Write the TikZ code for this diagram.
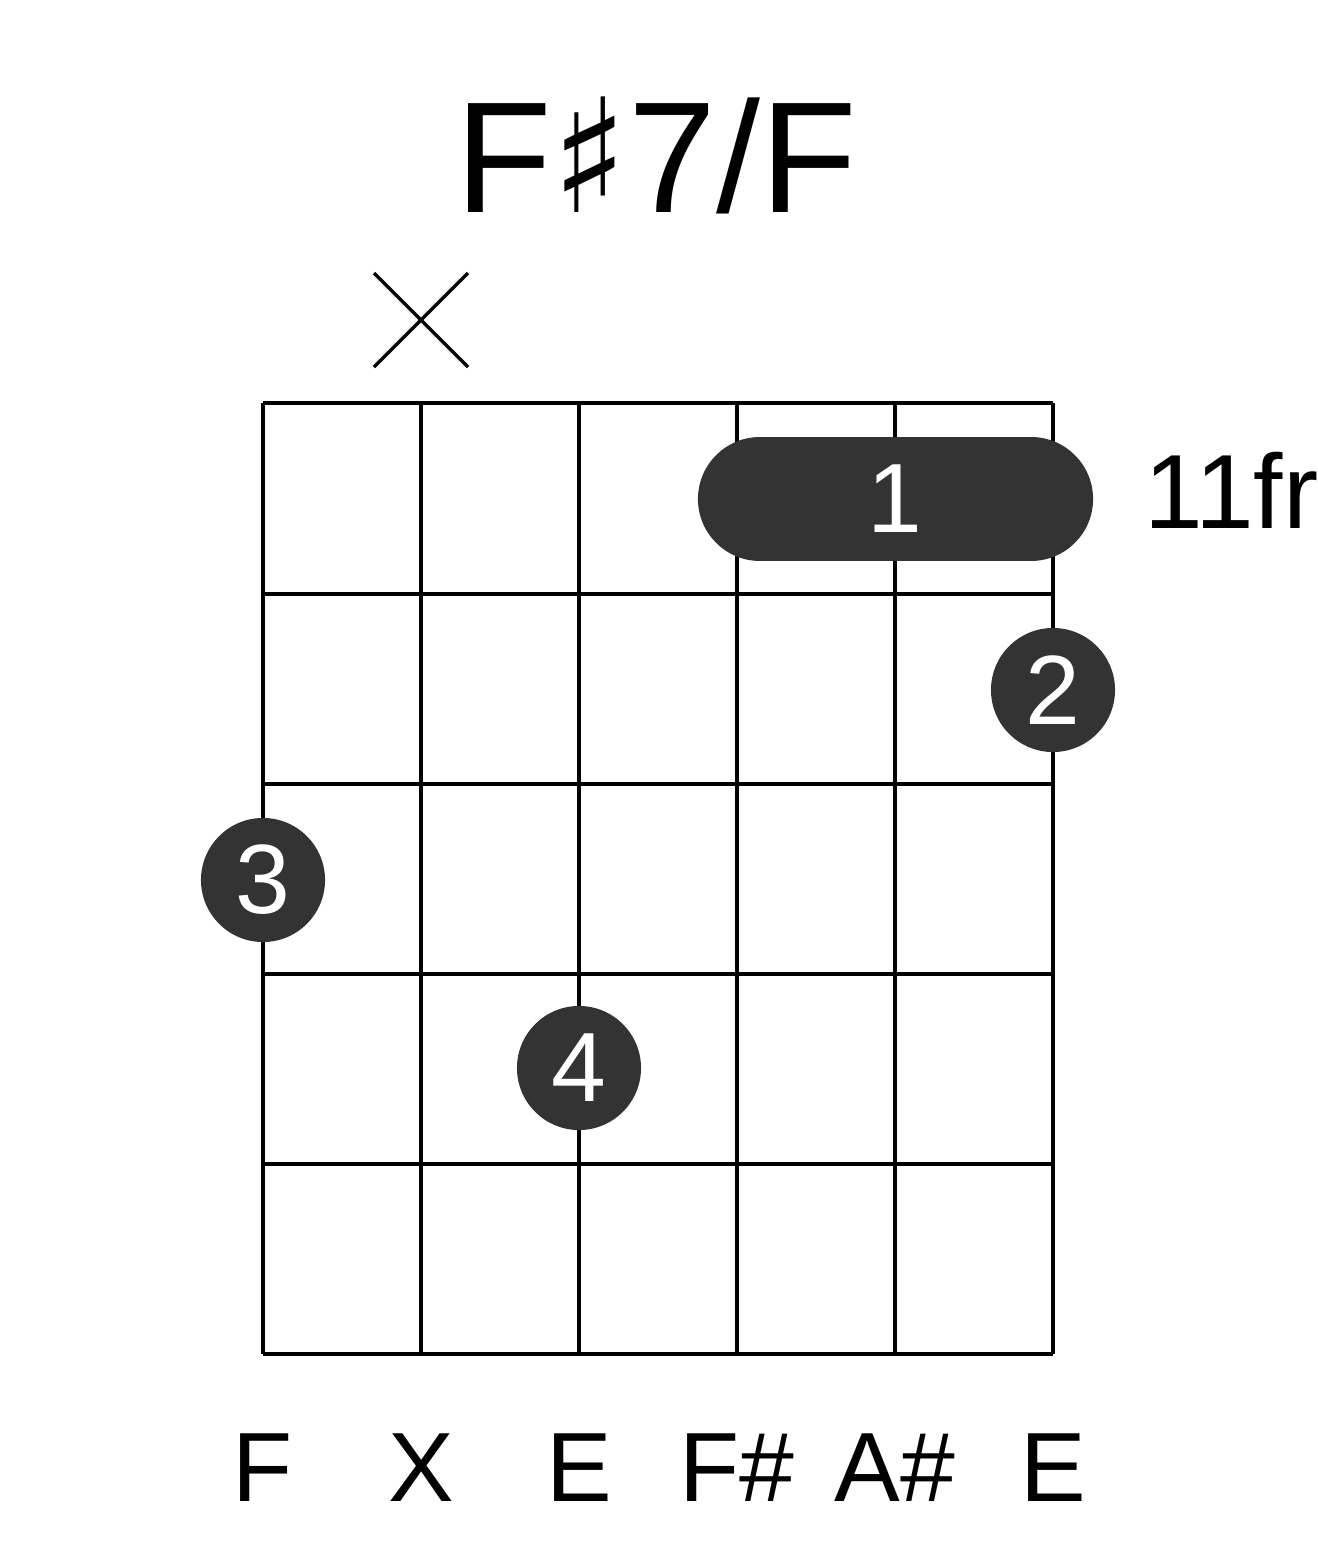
\documentclass[tikz,border=0pt]{standalone}
\usepackage{fontspec}
\setmainfont{Liberation Sans}
\newfontfamily\symfont{DejaVu Sans}
\definecolor{dotgray}{HTML}{333333}
\tikzset{
  fingerdot/.style={circle,fill=dotgray,minimum size=1.24cm,inner sep=0pt,text=white,font=\fontsize{28}{30}\selectfont},
  notename/.style={font=\fontsize{28}{30}\selectfont},
}
\begin{document}
\begin{tikzpicture}[x=0.01cm,y=-0.01cm]

% Frame
\useasboundingbox (0,0) rectangle (1317,1551);

% Title
\node (title) at (656,155) {\fontsize{45}{48}\selectfont F{\symfont\char"266F}7/F};

% Strings
\foreach \s in {263,421,579,737,895,1053}
  \draw[line width=1.2pt] (\s,403) -- (\s,1354);

% Frets
\foreach \f in {403,594,784,974,1164,1354}
  \draw[line width=1.2pt] (263,\f) -- (1053,\f);

% Muted string
\draw[line width=1pt] (374,273) -- (468,367) (374,367) -- (468,273);

% Barre
\coordinate (barreL) at (760,499);
\coordinate (barreR) at (1031,499);
\draw[dotgray,line width=35.3pt,line cap=round] (barreL) -- (barreR);
\node[text=white,font=\fontsize{28}{30}\selectfont] (barre) at (895,499) {1};

% Fingers
\node[fingerdot] (two) at (1053,690) {2};
\node[fingerdot] (three) at (263,880) {3};
\node[fingerdot] (four) at (579,1068) {4};

% Fret number
\node[font=\fontsize{30}{32}\selectfont,anchor=west] (fret) at (1132,490) {11fr};

% Notes
\foreach \x/\n [count=\i] in {263/F,421/X,579/E,737/F\#,895/A\#,1053/E}
  \node[notename] (note\i) at (\x,1468) {\n};

\end{tikzpicture}
\end{document}
